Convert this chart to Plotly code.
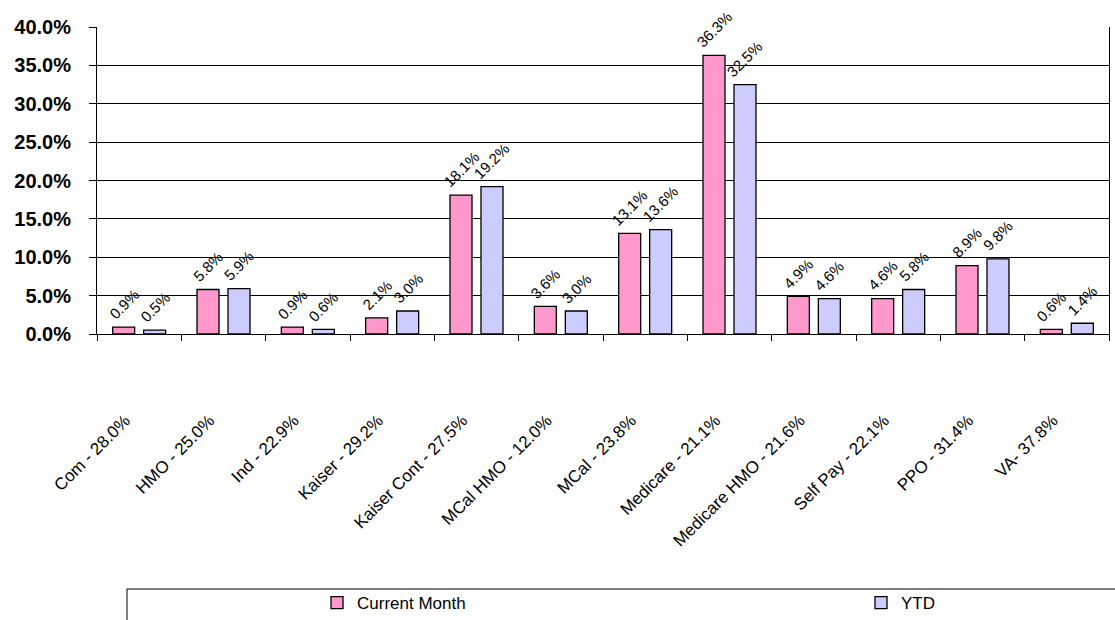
import plotly.graph_objects as go

categories = ["Com - 28.0%", "HMO - 25.0%", "Ind - 22.9%", "Kaiser - 29.2%",
              "Kaiser Cont - 27.5%", "MCal HMO - 12.0%", "MCal - 23.8%",
              "Medicare - 21.1%", "Medicare HMO - 21.6%", "Self Pay - 22.1%",
              "PPO - 31.4%", "VA- 37.8%"]
current_month = [0.9, 5.8, 0.9, 2.1, 18.1, 3.6, 13.1, 36.3, 4.9, 4.6, 8.9, 0.6]
ytd = [0.5, 5.9, 0.6, 3.0, 19.2, 3.0, 13.6, 32.5, 4.6, 5.8, 9.8, 1.4]
y_ticks = [0, 5, 10, 15, 20, 25, 30, 35, 40]

W, H = 1115, 620
L, R, T, B = 97, 6, 27, 286
PW = W - L - R
PH = H - T - B
BARGAP = 0.265
slot = PW / len(categories) * (1 - BARGAP) / 2

series = [("Current Month", current_month, "#FF99CC", "legend", 317, -slot / 2),
          ("YTD", ytd, "#CCCCFF", "legend2", 861, slot / 2)]

fig = go.Figure()
annotations = []
for name, vals, color, leg, legx, shift in series:
    fig.add_trace(go.Bar(
        x=categories, y=vals, name=name, legend=leg,
        marker=dict(color=color, line=dict(color="#000000", width=1.3)),
    ))
    for c, v in zip(categories, vals):
        annotations.append(dict(
            x=c, y=v, xref="x", yref="y", text=f"{v:.1f}%",
            showarrow=False, textangle=-45, xanchor="center", yanchor="bottom",
            xshift=shift, yshift=2,
            font=dict(family="Arial", size=15, color="#000000")))

def legend_cfg(px):
    return dict(orientation="h", x=(px - L) / PW, xanchor="left",
                y=-(603 - (H - B)) / PH, yanchor="middle",
                font=dict(family="Arial", size=17, color="#000000"),
                bgcolor="rgba(0,0,0,0)", borderwidth=0)

fig.update_layout(
    width=W, height=H,
    margin=dict(l=L, r=R, t=T, b=B, autoexpand=False),
    paper_bgcolor="white", plot_bgcolor="white",
    barmode="group", bargap=BARGAP, bargroupgap=0.29,
    font=dict(family="Arial", color="#000000"),
    showlegend=True,
    legend=legend_cfg(series[0][4]),
    legend2=legend_cfg(series[1][4]),
    annotations=annotations,
    xaxis=dict(type="category", tickangle=-45, tickson="boundaries",
               ticks="outside", ticklen=6, tickcolor="#000000",
               showline=True, linecolor="#000000", linewidth=1,
               showgrid=False, ticklabelstandoff=69, ticklabelshift=-14,
               automargin=False,
               tickfont=dict(family="Arial", size=17, color="#000000")),
    yaxis=dict(range=[0, 40], tickvals=y_ticks,
               ticktext=[f"{v:.1f}%" for v in y_ticks],
               ticks="outside", ticklen=7, tickcolor="#000000",
               showline=True, mirror=True, linecolor="#000000", linewidth=1,
               showgrid=True, gridcolor="#000000", gridwidth=1,
               zeroline=False, ticklabelstandoff=14, automargin=False,
               tickfont=dict(family="Arial", size=20, color="#000000",
                             weight="bold")),
    shapes=[dict(type="rect", xref="paper", yref="paper",
                 x0=(127 - L) / PW, x1=(1130 - L) / PW,
                 y0=-(589 - (H - B)) / PH, y1=-(640 - (H - B)) / PH,
                 line=dict(color="#000000", width=1), fillcolor="rgba(0,0,0,0)")],
)

fig.write_html("out.html")
